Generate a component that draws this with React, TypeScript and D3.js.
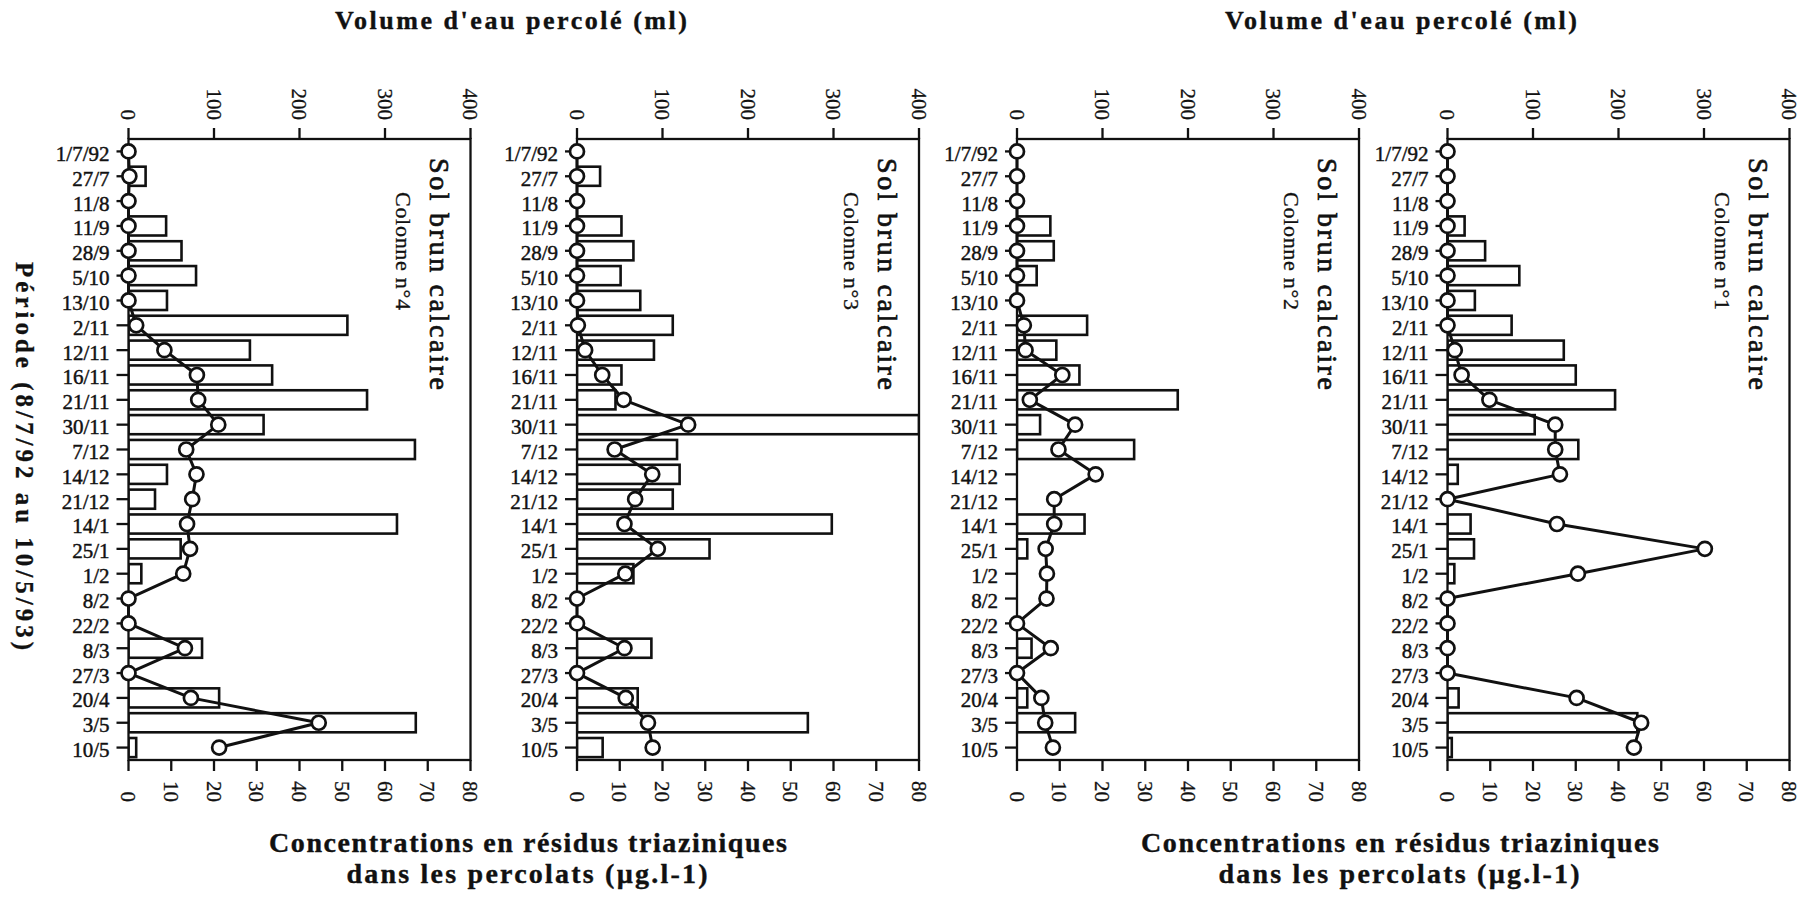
import React from "react";
import * as d3 from "d3";

// ---- data ----
const dates = [
  "1/7/92", "27/7", "11/8", "11/9", "28/9", "5/10", "13/10", "2/11", "12/11",
  "16/11", "21/11", "30/11", "7/12", "14/12", "21/12", "14/1", "25/1", "1/2",
  "8/2", "22/2", "8/3", "27/3", "20/4", "3/5", "10/5",
];

// Volume d'eau percolé (ml) — bars
const volCol4 = [0, 20, 0, 44, 62, 79, 45, 256, 142, 168, 279, 158, 335, 45, 31, 314, 61, 15, 0, 0, 86, 0, 106, 336, 9];
const volCol3 = [0, 27, 0, 52, 66, 51, 74, 112, 90, 52, 45, 400, 117, 120, 112, 298, 155, 66, 0, 0, 87, 0, 71, 270, 30];
const volCol2 = [0, 0, 0, 39, 43, 23, 0, 82, 46, 73, 188, 27, 137, 0, 0, 79, 12, 0, 0, 0, 17, 0, 12, 68, 0];
const volCol1 = [0, 0, 0, 20, 44, 84, 32, 75, 136, 150, 196, 102, 153, 12, 0, 27, 31, 8, 0, 0, 0, 0, 13, 222, 5];

// Concentrations en résidus triaziniques (µg.l-1) — circles + line
const concCol4 = [0, 0.2, 0, 0, 0, 0, 0, 1.8, 8.4, 16, 16.3, 21, 13.5, 15.9, 14.9, 13.7, 14.4, 12.8, 0, 0, 13.2, 0, 14.6, 44.5, 21.2];
const concCol3 = [0, 0, 0, 0, 0, 0, 0, 0.2, 1.9, 5.9, 10.9, 26, 8.8, 17.6, 13.6, 11.1, 18.9, 11.3, 0, 0, 11.1, 0, 11.4, 16.6, 17.7];
const concCol2 = [0, 0, 0, 0, 0, 0, 0, 1.6, 2, 10.6, 3, 13.6, 9.7, 18.4, 8.7, 8.7, 6.7, 7, 6.9, 0, 7.9, 0, 5.7, 6.6, 8.4];
const concCol1 = [0, 0, 0, 0, 0, 0, 0, 0, 1.7, 3.3, 9.8, 25.2, 25.2, 26.3, 0, 25.6, 60.2, 30.5, 0, 0, 0, 0, 30.2, 45.3, 43.6];

const panelTitle = "Sol brun calcaire";
const columnLabels = ["Colonne n°4", "Colonne n°3", "Colonne n°2", "Colonne n°1"];
const volumeTicks = [0, 100, 200, 300, 400];
const concTicks = [0, 10, 20, 30, 40, 50, 60, 70, 80];
const topTitle = "Volume d'eau percolé (ml)";
const bottomTitle1 = "Concentrations en résidus triaziniques";
const bottomTitle2 = "dans les percolats (µg.l-1)";
const periodLabel = "Période  (8/7/92  au  10/5/93)";

const volumesList = [volCol4, volCol3, volCol2, volCol1];
const concsList = [concCol4, concCol3, concCol2, concCol1];

// ---- layout ----
const WIDTH = 1807;
const HEIGHT = 898;
const PANEL_LEFTS = [128.5, 577, 1017, 1447.5];
const PANEL_W = 342;
const TOP = 139;
const BOTTOM = 760;
const FONT = "'Liberation Serif', 'Times New Roman', serif";
const INK = "#111";
const TXT_STROKE = 0.45;

function Panel({ idx }: { idx: number }) {
  const left = PANEL_LEFTS[idx];
  const right = left + PANEL_W;
  const volumes = volumesList[idx];
  const concs = concsList[idx];

  const yBand = d3
    .scaleBand<string>()
    .domain(dates)
    .range([TOP, BOTTOM])
    .paddingInner(0.23)
    .paddingOuter(0.115);
  const xVol = d3.scaleLinear().domain([0, 400]).range([left, right]);
  const xConc = d3.scaleLinear().domain([0, 80]).range([left, right]);
  const cy = (d: string) => (yBand(d) as number) + yBand.bandwidth() / 2;

  const lineGen = d3
    .line<number>()
    .x((v) => xConc(v))
    .y((_, i) => cy(dates[i]));

  const clipId = `clip-${idx}`;

  return (
    <g>
      <defs>
        <clipPath id={clipId}>
          <rect x={left} y={TOP} width={PANEL_W} height={BOTTOM - TOP} />
        </clipPath>
      </defs>

      {/* bars: volume */}
      <g clipPath={`url(#${clipId})`}>
        {volumes.map((v, i) =>
          v > 0 ? (
            <rect
              key={i}
              x={xVol(0)}
              y={yBand(dates[i])}
              width={xVol(v) - xVol(0)}
              height={yBand.bandwidth()}
              fill="#fff"
              stroke={INK}
              strokeWidth={2.6}
            />
          ) : null
        )}
      </g>

      {/* frame */}
      <rect
        x={left}
        y={TOP}
        width={PANEL_W}
        height={BOTTOM - TOP}
        fill="none"
        stroke={INK}
        strokeWidth={2.3}
      />

      {/* left category axis */}
      {dates.map((d) => (
        <g key={d}>
          <line x1={left - 12} x2={left} y1={cy(d)} y2={cy(d)} stroke={INK} strokeWidth={2.3} />
          <text
            x={left - 19}
            y={cy(d)}
            dy="0.45em"
            textAnchor="end"
            fontFamily={FONT}
            fontSize={21}
            fill={INK}
            stroke={INK}
            strokeWidth={TXT_STROKE}
          >
            {d}
          </text>
        </g>
      ))}

      {/* top axis: volume */}
      {volumeTicks.map((t) => (
        <g key={`v${t}`}>
          <line x1={xVol(t)} x2={xVol(t)} y1={TOP - 11} y2={TOP} stroke={INK} strokeWidth={2.3} />
          <text
            transform={`translate(${xVol(t)},120) rotate(90)`}
            dy="0.35em"
            textAnchor="end"
            fontFamily={FONT}
            fontSize={21}
            fill={INK}
            stroke={INK}
            strokeWidth={0.3}
          >
            {t}
          </text>
        </g>
      ))}

      {/* bottom axis: concentration */}
      {concTicks.map((t) => (
        <g key={`c${t}`}>
          <line x1={xConc(t)} x2={xConc(t)} y1={BOTTOM} y2={BOTTOM + 11} stroke={INK} strokeWidth={2.3} />
          <text
            transform={`translate(${xConc(t)},802) rotate(90)`}
            dy="0.35em"
            textAnchor="end"
            fontFamily={FONT}
            fontSize={21}
            fill={INK}
            stroke={INK}
            strokeWidth={0.3}
          >
            {t}
          </text>
        </g>
      ))}

      {/* concentration line + circles */}
      <path d={lineGen(concs) || ""} fill="none" stroke={INK} strokeWidth={3} strokeLinejoin="round" />
      {concs.map((v, i) => (
        <circle key={i} cx={xConc(v)} cy={cy(dates[i])} r={7} fill="#fff" stroke={INK} strokeWidth={2.7} />
      ))}

      {/* panel titles */}
      <text
        transform={`translate(${right - 41},${TOP + 19}) rotate(90)`}
        fontFamily={FONT}
        fontSize={28}
        textLength={232}
        lengthAdjust="spacing"
        fill={INK}
        stroke={INK}
        strokeWidth={0.7}
      >
        {panelTitle}
      </text>
      <text
        transform={`translate(${right - 75},${TOP + 53}) rotate(90)`}
        fontFamily={FONT}
        fontSize={22}
        textLength={118}
        lengthAdjust="spacing"
        fill={INK}
        stroke={INK}
        strokeWidth={0.3}
      >
        {columnLabels[idx]}
      </text>
    </g>
  );
}

export default function App() {
  const topCenters = [511, 1401];
  const bottomCenters = [528, 1400];
  return (
    <svg
      width={WIDTH}
      height={HEIGHT}
      viewBox={`0 0 ${WIDTH} ${HEIGHT}`}
      style={{ position: "absolute", left: 0, top: 0, background: "#fff" }}
    >
      <rect x={0} y={0} width={WIDTH} height={HEIGHT} fill="#fff" />
      {PANEL_LEFTS.map((_, i) => (
        <Panel key={i} idx={i} />
      ))}

      {topCenters.map((cx, i) => (
        <text
          key={`tt${i}`}
          x={cx}
          y={29}
          textAnchor="middle"
          fontFamily={FONT}
          fontWeight="bold"
          fontSize={26}
          textLength={352}
          lengthAdjust="spacing"
          fill={INK}
          stroke={INK}
          strokeWidth={0.4}
        >
          {topTitle}
        </text>
      ))}

      {bottomCenters.map((cx, i) => (
        <g key={`bt${i}`}>
          <text
            x={cx}
            y={852}
            textAnchor="middle"
            fontFamily={FONT}
            fontWeight="bold"
            fontSize={28}
            textLength={518}
            lengthAdjust="spacing"
            fill={INK}
            stroke={INK}
            strokeWidth={0.4}
          >
            {bottomTitle1}
          </text>
          <text
            x={cx - 1}
            y={883}
            textAnchor="middle"
            fontFamily={FONT}
            fontWeight="bold"
            fontSize={28}
            textLength={361}
            lengthAdjust="spacing"
            fill={INK}
            stroke={INK}
            strokeWidth={0.4}
          >
            {bottomTitle2}
          </text>
        </g>
      ))}

      <text
        transform={`translate(16,456) rotate(90)`}
        textAnchor="middle"
        fontFamily={FONT}
        fontWeight="bold"
        fontSize={25}
        textLength={388}
        lengthAdjust="spacing"
        fill={INK}
        stroke={INK}
        strokeWidth={0.3}
      >
        {periodLabel}
      </text>
    </svg>
  );
}
